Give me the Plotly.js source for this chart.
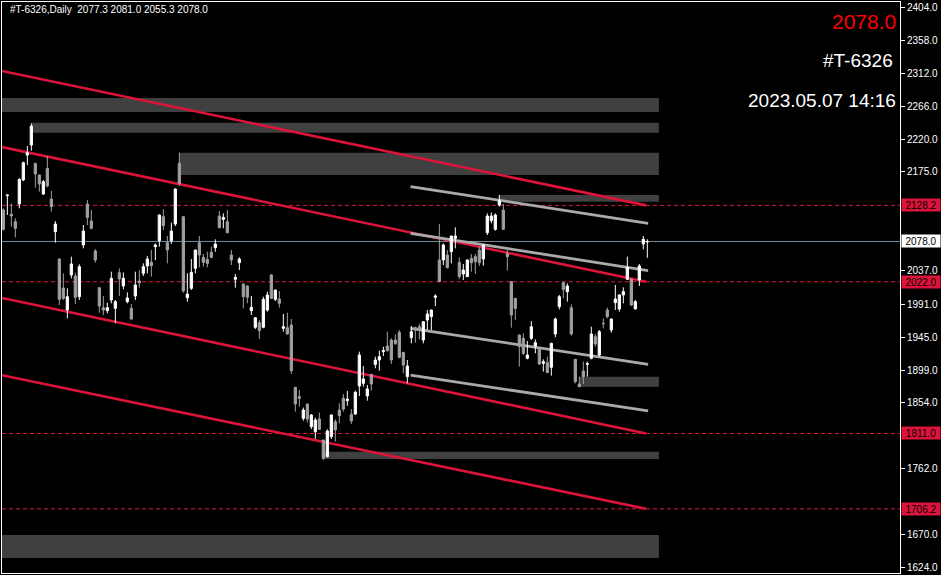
<!DOCTYPE html>
<html>
<head>
<meta charset="utf-8">
<script src="https://cdn.plot.ly/plotly-3.0.1.min.js"></script>
<style>html,body{margin:0;padding:0;background:#000;}#chart{width:941px;height:575px;}</style>
</head>
<body>
<div id="chart"></div>
<script>
// ---- Daily OHLC of #T-6326 ----
const open = [2121.7,2141.7,2115.7,2105.5,2130.1,2163.5,2198.2,2212.1,2186.6,2170.4,
2144.0,2179.7,2137.0,2091.6,2053.6,2013.3,1982.7,2031.4,2030.0,2001.2,
2073.1,2130.1,2106.4,2064.7,2013.7,1985.9,1981.8,1996.6,1985.0,2034.6,
2016.1,1994.3,1985.0,2002.2,2023.0,2033.7,2043.9,2049.0,2070.8,2079.1,
2112.5,2076.3,2079.1,2102.3,2186.6,2112.5,1999.8,2012.8,2040.6,2076.3,
2055.9,2053.1,2062.9,2069.4,2113.4,2108.8,2105.5,2059.2,2025.4,2048.5,
2018.8,2016.1,1981.8,1958.6,1965.1,1958.6,1982.7,2031.4,1997.5,1998.0,
1957.2,1958.1,1961.8,1875.2,1862.2,1832.1,1852.0,1820.5,1813.5,1831.1,
1801.9,1778.7,1806.6,1827.4,1843.6,1859.9,1856.6,1837.6,1838.1,1877.0,
1880.7,1863.1,1893.2,1907.1,1913.2,1924.8,1932.6,1941.0,1941.0,1951.6,
1923.8,1890.0,1944.2,1958.1,1959.5,1941.0,1968.8,1973.4,2000.3,2052.2,
2052.2,2059.2,2063.8,2082.4,2049.0,2032.8,2029.1,2054.5,2056.9,2066.1,
2053.6,2090.2,2106.9,2094.9,2128.7,2121.7,2061.5,2022.1,1998.9,1947.9,
1943.3,1915.5,1943.3,1932.6,1929.4,1908.5,1909.5,1903.0,1949.3,1987.3,
2020.7,2008.2,1985.9,1914.1,1879.8,1897.9,1907.1,1915.5,1945.6,1920.1,
1964.2,1982.7,1954.9,1992.9,1984.1,2003.6,2025.4,2025.8,1984.1,2024.4,
2074.5,2077.3];
const high = [2124.1,2143.5,2131.0,2110.2,2165.8,2189.0,2210.7,2242.3,2187.5,2171.0,
2163.5,2196.8,2148.6,2106.4,2054.5,2033.7,2012.8,2056.9,2034.6,2046.2,
2100.9,2135.7,2121.7,2067.5,2014.5,2002.2,1992.9,2036.0,1996.6,2040.6,
2035.1,2007.3,1991.0,2036.0,2038.3,2047.6,2057.8,2066.1,2075.4,2115.7,
2122.7,2085.6,2104.1,2151.9,2201.5,2113.0,2033.7,2053.6,2066.8,2085.6,
2060.6,2063.8,2070.8,2081.0,2120.4,2117.1,2121.7,2066.1,2032.8,2055.9,
2019.5,2016.8,2002.2,1972.5,1968.8,2001.2,2008.2,2032.8,2011.0,2009.1,
1977.1,1979.0,1970.2,1875.8,1871.5,1846.9,1852.6,1838.1,1833.0,1840.0,
1802.5,1816.8,1837.2,1830.7,1852.9,1865.9,1870.1,1845.0,1870.5,1924.8,
1904.8,1878.4,1893.8,1917.8,1926.2,1931.7,1952.6,1943.3,1948.9,1954.9,
1924.4,1913.2,1960.5,1959.5,1963.2,1966.5,1982.7,1983.2,2004.5,2102.3,
2075.4,2066.1,2086.0,2097.6,2055.9,2046.7,2053.1,2060.6,2060.6,2070.8,
2074.0,2117.1,2118.5,2117.1,2142.6,2130.1,2066.1,2022.6,1999.4,1948.4,
1950.3,1939.6,1967.4,1941.9,1929.9,1914.1,1917.8,1937.3,1972.0,2003.6,
2022.1,2019.8,1990.6,1914.6,1890.0,1910.9,1910.9,1959.5,1949.3,1954.9,
1971.1,1986.0,1971.1,2017.5,2004.5,2014.2,2056.9,2026.3,1996.6,2046.7,
2085.6,2081.0];
const low = [2093.0,2114.8,2098.6,2083.7,2124.1,2162.0,2184.3,2204.3,2152.8,2147.2,
2142.6,2153.3,2119.4,2076.3,1989.6,1996.6,1971.1,2026.7,1991.0,1996.6,
2068.4,2100.9,2094.9,2048.5,1979.0,1975.7,1978.1,1992.0,1964.2,2002.2,
2011.4,1992.0,1969.5,1996.6,2013.7,2030.0,2033.7,2029.1,2052.2,2070.8,
2093.9,2047.6,2074.5,2099.5,2155.1,2006.8,1994.3,2010.5,2033.7,2042.0,
2043.0,2042.0,2054.6,2063.8,2096.3,2096.3,2089.5,2045.3,2013.7,2038.3,
1985.0,1992.0,1975.7,1956.3,1942.4,1957.2,1980.4,1998.5,1995.2,1986.0,
1952.6,1948.8,1893.7,1841.3,1848.3,1828.8,1826.1,1817.2,1803.3,1815.8,
1774.1,1777.8,1803.3,1799.6,1825.1,1841.3,1849.7,1824.2,1836.7,1863.1,
1876.1,1856.6,1870.5,1901.6,1898.3,1918.7,1924.8,1907.6,1934.0,1915.5,
1894.6,1880.7,1936.3,1937.3,1941.9,1936.3,1954.9,1954.9,1988.2,2021.6,
2045.3,2040.6,2047.6,2068.4,2025.8,2024.4,2028.6,2036.0,2032.8,2043.9,
2044.3,2087.0,2103.2,2093.0,2126.4,2093.9,2037.4,1958.1,1968.8,1903.9,
1920.1,1914.1,1941.0,1922.4,1906.2,1897.0,1895.1,1891.4,1944.7,1983.6,
1998.9,1994.3,1947.0,1880.7,1875.2,1879.8,1890.0,1914.1,1931.7,1917.8,
1957.2,1971.1,1951.2,1982.7,1980.4,1992.0,2024.4,1988.2,1983.6,2016.1,
2067.1,2055.3];
const close = [2095.0,2142.6,2113.4,2096.3,2164.4,2187.6,2201.5,2238.5,2171.8,2157.9,
2161.1,2155.1,2126.4,2102.3,1997.5,1998.9,2001.2,2046.7,2000.3,2043.0,
2092.5,2111.5,2096.3,2052.2,1988.2,1982.7,1985.9,2026.7,1994.3,2025.8,
2026.7,1999.4,1970.2,2017.5,2020.7,2043.0,2053.6,2044.3,2073.1,2114.8,
2100.0,2066.1,2092.5,2150.9,2158.8,2009.1,2004.9,2035.1,2066.1,2059.2,
2049.0,2047.6,2055.9,2074.5,2097.2,2111.5,2090.2,2052.2,2028.1,2053.6,
2001.2,2000.3,1986.4,1972.0,1954.0,1997.5,2003.6,1998.9,2010.5,1992.0,
1959.5,1949.3,1898.3,1852.0,1859.9,1843.6,1831.1,1836.7,1829.7,1816.8,
1776.4,1814.4,1836.7,1815.8,1835.8,1845.0,1858.9,1828.4,1868.2,1920.1,
1886.8,1872.8,1879.8,1913.2,1917.8,1926.2,1926.2,1913.2,1936.3,1916.9,
1906.2,1904.8,1952.6,1954.9,1955.8,1966.5,1977.1,1982.7,2002.2,2022.1,
2073.1,2041.6,2085.6,2085.6,2029.1,2038.3,2052.2,2048.5,2049.9,2048.5,
2073.1,2113.4,2113.4,2114.8,2134.7,2094.9,2056.9,1975.7,1985.0,1931.7,
1922.4,1920.1,1959.5,1937.3,1907.6,1910.9,1895.6,1936.3,1970.2,2001.2,
2011.4,2016.1,1949.3,1883.0,1876.1,1890.0,1908.0,1949.3,1935.4,1952.6,
1963.7,1973.4,1970.2,1998.0,2003.6,2008.2,2042.0,1989.6,1994.3,2043.9,
2081.0,2078.0];

// bar numbers (position of each daily bar)
const bars = open.map((_, i) => i + 1);

// price axis ticks (the ones hidden behind the price boxes are left out)
const tickVals = [2404.0,2358.0,2312.0,2266.0,2220.0,2175.0,2037.0,1991.0,1945.0,1899.0,1854.0,1762.0,1670.0,1624.0];
const tickText = tickVals.map(v => v.toFixed(1));

// horizontal price levels (red dashed) and the bid
const levels = [2128.2, 2022.0, 1811.0, 1706.2];
const bid = 2078.0;

// red channel trend lines: [bar0, price0, bar1, price1]
const redLines = [
  [0.67, 2315.0, 161.7, 2128.2],
  [0.67, 2209.3, 161.7, 2022.0],
  [0.67, 1999.4, 161.7, 1811.0],
  [0.67, 1892.0, 161.7, 1706.2]
];
// silver channel lines
const grayLines = [
  [102.8, 2154.4, 162.2, 2103.3],
  [102.8, 2089.4, 162.2, 2037.4],
  [102.8, 1957.3, 162.2, 1907.2],
  [102.8, 1892.3, 162.2, 1842.3]
];
// zones: [barStart, barEnd, priceTop, priceBottom]
const zones = [
  [0.6, 164.9, 2277.5, 2258.0],
  [8, 164.9, 2243.1, 2229.2],
  [45, 164.9, 2201.4, 2170.4],
  [125, 164.9, 2142.6, 2133.3],
  [145, 164.9, 1890.0, 1876.1],
  [81, 164.9, 1785.7, 1775.5],
  [0.6, 164.9, 1669.9, 1637.9]
];

const symbol = '#T-6326';
const stamp = '2023.05.07 14:16';

const X0 = 0.6675, X1 = 225.17;
const shapes = [];
zones.forEach(z => shapes.push({type:'rect', layer:'below', xref:'x', yref:'y',
  x0:z[0], x1:z[1], y0:z[3], y1:z[2], fillcolor:'#404040', line:{width:0}}));
levels.forEach(v => shapes.push({type:'line', layer:'below', xref:'x', yref:'y',
  x0:X0, x1:X1, y0:v, y1:v, line:{color:'#e0143c', width:1, dash:'4px,3px'}}));
shapes.push({type:'line', layer:'below', xref:'x', yref:'y', x0:X0, x1:X1, y0:bid, y1:bid,
  line:{color:'#778899', width:1}});
redLines.forEach(l => shapes.push({type:'line', layer:'below', xref:'x', yref:'y',
  x0:l[0], y0:l[1], x1:l[2], y1:l[3], line:{color:'#dc143c', width:2.6}}));
grayLines.forEach(l => shapes.push({type:'line', layer:'below', xref:'x', yref:'y',
  x0:l[0], y0:l[1], x1:l[2], y1:l[3], line:{color:'#aaaaaa', width:2.8}}));

const FONT = 'Liberation Sans, Arial, sans-serif';
const annotations = [];
annotations.push({xref:'paper', yref:'paper', x:0.0067, y:0.986, xanchor:'left', yanchor:'middle',
  showarrow:false, text: symbol + ',Daily\u00a0\u00a0' + [open[161], high[161], low[161], close[161]].map(v=>v.toFixed(1)).join(' '),
  font:{family:FONT, size:10, color:'#ffffff'}});
annotations.push({xref:'paper', yref:'paper', x:0.9978, y:0.965, xanchor:'right', yanchor:'middle',
  showarrow:false, text: close[161].toFixed(1), font:{family:FONT, size:21, color:'#ff0000'}});
annotations.push({xref:'paper', yref:'paper', x:0.9945, y:0.898, xanchor:'right', yanchor:'middle',
  showarrow:false, text: symbol, font:{family:FONT, size:19, color:'#ffffff'}});
annotations.push({xref:'paper', yref:'paper', x:0.9978, y:0.828, xanchor:'right', yanchor:'middle',
  showarrow:false, text: stamp, font:{family:FONT, size:19, color:'#ffffff'}});
levels.forEach(v => annotations.push({xref:'paper', yref:'y', x:1, y:v, xanchor:'left', yanchor:'middle',
  xshift:1, showarrow:false, text:v.toFixed(1), bgcolor:'#dc143c', borderpad:1, width:36, height:10,
  font:{family:FONT, size:10, color:'#000000'}}));
annotations.push({xref:'paper', yref:'y', x:1, y:bid, xanchor:'left', yanchor:'middle',
  xshift:1, showarrow:false, text:bid.toFixed(1), bgcolor:'#ffffff', borderpad:1, width:36, height:10,
  font:{family:FONT, size:10, color:'#000000'}});

const trace = {
  type:'candlestick', x:bars, open:open, high:high, low:low, close:close,
  increasing:{line:{color:'#ffffff', width:1}, fillcolor:'#ffffff'},
  decreasing:{line:{color:'#a0a0a0', width:1}, fillcolor:'#a0a0a0'},
  whiskerwidth:0, hoverinfo:'skip'
};

const layout = {
  width:941, height:575,
  margin:{l:2, r:41, t:2, b:2},
  paper_bgcolor:'#000000', plot_bgcolor:'#000000',
  showlegend:false,
  boxgap:0.2,
  xaxis:{range:[X0, X1], showgrid:false, zeroline:false, showticklabels:false, ticks:'',
    showline:true, linecolor:'#ffffff', linewidth:1, mirror:true, rangeslider:{visible:false}, fixedrange:true},
  yaxis:{side:'right', range:[1617.0, 2411.0], tickmode:'array', tickvals:tickVals, ticktext:tickText,
    ticks:'outside', ticklen:4, tickcolor:'#ffffff', tickfont:{family:FONT, size:10, color:'#ffffff'},
    showgrid:false, zeroline:false, showline:true, linecolor:'#ffffff', linewidth:1, mirror:true, fixedrange:true},
  shapes:shapes,
  annotations:annotations
};

Plotly.newPlot('chart', [trace], layout, {displayModeBar:false, staticPlot:true});
</script>
</body>
</html>
